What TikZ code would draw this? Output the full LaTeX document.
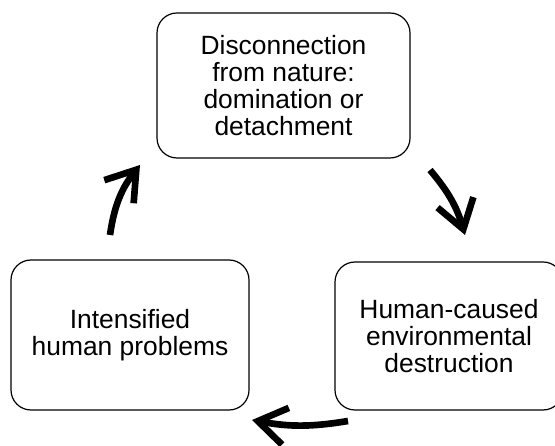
\documentclass[tikz,border=0pt]{standalone}
\usepackage{fontspec}
\setmainfont{Liberation Sans}
\usepackage{tikz}
\usetikzlibrary{arrows.meta}
\tikzset{
  box/.style={draw, line width=0.9pt, rounded corners=15pt, align=center,
    font=\fontsize{19.8pt}{20.3pt}\selectfont},
  loop/.style={line width=5pt, -{Straight Barb[length=21pt,width=28pt,line cap=butt,line join=miter]}, bend left=#1},
}

\begin{document}
\begin{tikzpicture}[x=0.75pt, y=0.75pt]
			%%%%% START %%%%%
			\useasboundingbox (0, 0) rectangle (555, 445);
			
			\node[box, minimum width=189.75pt, minimum height=108.75pt] (nature) at (283.5, 359.5) {Disconnection\\from nature:\\domination or\\detachment};
			\node[box, minimum width=171pt, minimum height=111pt] (destruction) at (449, 109) {Human-caused\\environmental\\destruction};
			\node[box, minimum width=178.5pt, minimum height=112.5pt] (problems) at (130, 110) {Intensified\\human problems};
			
			\coordinate (a1) at (430, 275);
			\coordinate (b1) at (465, 210);
			\coordinate (a2) at (348, 24);
			\coordinate (b2) at (252, 25);
			\coordinate (a3) at (110, 210);
			\coordinate (b3) at (140, 280);
			
			\draw[loop=12] (a1) to (b1);
			\draw[loop=10] (a2) to (b2);
			\draw[loop=15] (a3) to (b3);
			%%%%% END %%%%%
\end{tikzpicture}
\end{document}
